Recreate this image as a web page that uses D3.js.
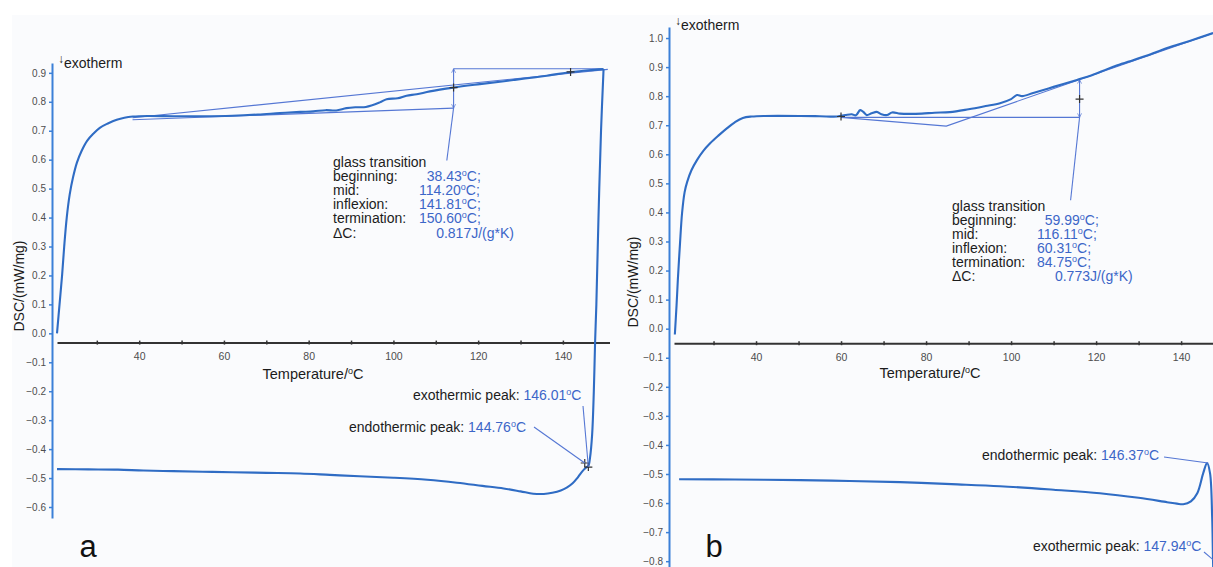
<!DOCTYPE html>
<html>
<head>
<meta charset="utf-8">
<script src="https://cdn.jsdelivr.net/npm/d3@7"></script>
<style>
  body { margin: 0; background: #ffffff; }
  svg { display: block; }
  text { font-family: "Liberation Sans", Arial, Helvetica, sans-serif; }
</style>
</head>
<body>
<svg id="chart" width="1213" height="567"></svg>
<script>
// ---------- axis ticks ----------
const tempTicks = [30, 40, 50, 60, 70, 80, 90, 100, 110, 120, 130, 140];
const tempLabelTicks = [40, 60, 80, 100, 120, 140];
const dscTicksA = [0.9, 0.8, 0.7, 0.6, 0.5, 0.4, 0.3, 0.2, 0.1, 0.0, -0.1, -0.2, -0.3, -0.4, -0.5, -0.6];
const dscTicksB = [1.0, 0.9, 0.8, 0.7, 0.6, 0.5, 0.4, 0.3, 0.2, 0.1, 0.0, -0.1, -0.2, -0.3, -0.4, -0.5, -0.6, -0.7, -0.8];

// ---------- sample a: heating trace (°C, mW/mg) ----------
const aHeatTemp = [20.6, 21.2, 21.8, 22.3, 22.9, 23.6, 24.4, 25.3, 26.4, 27.7, 29.2, 30.7, 32.6, 34.7, 36.5, 38.5,
  42, 48, 55, 62, 68, 73.2, 78, 81.1, 84, 86.5, 88.9, 91, 93.5, 96.8, 98.4, 101, 103.1, 105.5, 108.6, 114.1,
  120.4, 128.3, 136.2, 142.1, 146, 149.6];
const aHeatDsc = [0.00, 0.10, 0.20, 0.30, 0.40, 0.48, 0.54, 0.59, 0.63, 0.665, 0.69, 0.71, 0.725, 0.738, 0.745, 0.749,
  0.751, 0.750, 0.750, 0.752, 0.756, 0.761, 0.765, 0.767, 0.771, 0.770, 0.778, 0.781, 0.782, 0.798, 0.809, 0.812, 0.821, 0.826, 0.836, 0.849,
  0.861, 0.875, 0.890, 0.903, 0.909, 0.913];

// ---------- sample a: return / cooling trace ----------
const aCoolTemp = [149.6, 149.0, 148.4, 147.9, 147.6, 147.3, 146.9, 146.4, 146.01, 145.6, 145.0, 144.3, 143.4, 142.3,
  141.0, 139.5, 137.5, 135.5, 133.0, 130.0, 126.0, 121.0, 115.0, 108.0, 100.0, 92.0, 85.0, 78.0, 70.0, 62.0,
  55.0, 48.0, 41.0, 35.0, 28.0, 20.6];
const aCoolDsc = [0.913, 0.70, 0.40, 0.10, -0.03, -0.20, -0.35, -0.43, -0.458, -0.462, -0.470, -0.482, -0.500, -0.518,
  -0.532, -0.543, -0.551, -0.555, -0.554, -0.546, -0.536, -0.527, -0.516, -0.506, -0.499, -0.494, -0.489, -0.484, -0.482, -0.480,
  -0.478, -0.476, -0.474, -0.471, -0.470, -0.469];

// ---------- sample b: heating trace ----------
const bHeatTemp = [20.9, 21.3, 21.6, 22.1, 22.6, 23.2, 23.8, 24.8, 26.1, 27.6, 29.2, 31.2, 33.2, 35, 36.9, 39,
  42, 50.4, 55, 59.1, 61, 62.5, 63.5, 64.5, 65.3, 66, 67.2, 68.4, 69.5, 70.8, 72, 73.9, 76, 79, 82, 85.6,
  90, 94, 97.4, 100, 101.4, 102.6, 105.2, 110, 115.5, 119, 122.6, 125, 128.7, 132, 136.7, 142, 147.5];
const bHeatDsc = [-0.02, 0.08, 0.167, 0.29, 0.398, 0.47, 0.505, 0.545, 0.58, 0.612, 0.638, 0.665, 0.69, 0.71, 0.725, 0.730,
  0.732, 0.732, 0.731, 0.730, 0.735, 0.738, 0.734, 0.752, 0.745, 0.735, 0.741, 0.746, 0.738, 0.735, 0.744, 0.740, 0.739, 0.740, 0.743, 0.745,
  0.755, 0.766, 0.776, 0.790, 0.804, 0.800, 0.811, 0.832, 0.856, 0.872, 0.893, 0.906, 0.924, 0.940, 0.966, 0.990, 1.017];

// ---------- sample b: return / cooling trace ----------
const bCoolTemp = [21.9, 35, 50.4, 62, 73.9, 86, 97.4, 110, 120.9, 130, 136.7, 139, 140.5, 142.3, 143.8, 145.2,
  146.1, 146.8, 147.3, 147.5, 147.7];
const bCoolDsc = [-0.518, -0.519, -0.521, -0.524, -0.528, -0.535, -0.542, -0.554, -0.566, -0.582, -0.597, -0.602, -0.604, -0.594, -0.566, -0.497,
  -0.462, -0.497, -0.648, -0.796, -0.90];

// ---------- evaluation results ----------
const glassLabels = ["beginning:", "mid:", "inflexion:", "termination:", "\u0394C:"];
const aGlassTemps = [38.43, 114.20, 141.81, 150.60];
const aDeltaC = 0.817;
const aBaseLow = [0.738, 0.778];   // pre-transition baseline at beginning / mid
const aBaseHigh = [0.745, 0.912];  // post-transition baseline at beginning / termination
const aStepTop = 0.914;
const aMidDsc = 0.849;
const aInflexDsc = 0.903;
const aPeakTemps = [144.76, 146.01];   // endothermic, exothermic
const aPeakDsc = [-0.448, -0.462];

const bGlassTemps = [59.99, 116.11, 60.31, 84.75];
const bDeltaC = 0.773;
const bBaseLow = 0.727;
const bTermDsc = 0.697;
const bTangentEnd = [147.5, 1.017];
const bStepTop = 0.857;
const bMidDsc = 0.790;
const bPeakTemps = [146.37, 147.94];   // endothermic, exothermic
const bPeakDsc = [-0.462, -0.80];

// ---------- styling ----------
const curveColor = "#2f6cc4";
const auxColor = "#5577d4";
const valueColor = "#3c66c8";
const textColor = "#1c1c1c";
const tickColor = "#4d4d4d";

const svg = d3.select("#chart");
svg.append("rect").attr("x", 12).attr("y", 15).attr("width", 1201).attr("height", 552).attr("fill", "#fafbfd");

const defs = svg.append("defs");
["up", "down"].forEach(dir => {
  defs.append("marker")
    .attr("id", "arrow-" + dir)
    .attr("viewBox", "0 0 10 10")
    .attr("refX", 5).attr("refY", dir === "up" ? 1 : 9)
    .attr("markerWidth", 5).attr("markerHeight", 6)
    .attr("markerUnits", "userSpaceOnUse")
    .attr("orient", "0")
    .append("path")
    .attr("d", dir === "up" ? "M1,9 L5,1 L9,9" : "M1,1 L5,9 L9,1")
    .attr("fill", "none").attr("stroke", auxColor).attr("stroke-width", 1.4);
});

const zip = (t, v) => t.map((d, i) => [d, v[i]]);
const fmt2 = d3.format(".2f");

function drawPanel(cfg) {
  const g = svg.append("g");
  const x = d3.scaleLinear().domain(cfg.tDomain).range(cfg.xRange);
  const y = d3.scaleLinear().domain(cfg.vDomain).range(cfg.yRange);

  // temperature axis, crossing the plot just below zero
  const xAxis = g.append("g")
    .attr("transform", `translate(0,${y(cfg.axisAt)})`)
    .call(d3.axisBottom(x).tickValues(tempTicks)
      .tickFormat(d => tempLabelTicks.includes(d) ? d : "")
      .tickSize(3).tickSizeOuter(0).tickPadding(7));
  xAxis.select(".domain").attr("stroke", "#333").attr("stroke-width", 2);
  xAxis.selectAll(".tick line").attr("y1", -2).attr("y2", 2).attr("stroke", "#333").attr("stroke-width", 1.5);
  xAxis.selectAll(".tick text").attr("fill", tickColor).attr("font-size", 10.5);

  // DSC axis
  const yAxis = g.append("g")
    .attr("transform", `translate(${cfg.yAxisX},0)`)
    .call(d3.axisLeft(y).tickValues(cfg.dscTicks).tickFormat(d3.format(".1f"))
      .tickSize(3).tickSizeOuter(0).tickPadding(3));
  yAxis.select(".domain").attr("stroke", "#3b80d8").attr("stroke-width", 2);
  yAxis.selectAll(".tick line").attr("stroke", "#3b80d8").attr("stroke-width", 1.5);
  yAxis.selectAll(".tick text").attr("fill", tickColor).attr("font-size", 10);

  const line = d3.line().x(d => x(d[0])).y(d => y(d[1])).curve(d3.curveCatmullRom.alpha(0.5));
  const straight = d3.line().x(d => x(d[0])).y(d => y(d[1]));

  // evaluation construction lines
  cfg.aux.forEach(seg => {
    const p = g.append("path").attr("d", straight(seg.pts))
      .attr("fill", "none").attr("stroke", auxColor).attr("stroke-width", 1.1);
    if (seg.arrows) p.attr("marker-start", "url(#arrow-down)").attr("marker-end", "url(#arrow-up)");
  });

  // measured traces
  g.append("path").attr("d", line(cfg.heat)).attr("fill", "none")
    .attr("stroke", curveColor).attr("stroke-width", 2.1).attr("stroke-linejoin", "round");
  g.append("path").attr("d", line(cfg.cool)).attr("fill", "none")
    .attr("stroke", curveColor).attr("stroke-width", 2.1).attr("stroke-linejoin", "round");

  // "+" markers
  cfg.crosses.forEach(c => {
    const cx = x(c[0]), cy = y(c[1]);
    g.append("path").attr("d", `M${cx - 4},${cy}H${cx + 4}M${cx},${cy - 4}V${cy + 4}`)
      .attr("stroke", "#333").attr("stroke-width", 1.2);
  });

  // glass transition text block
  const gt = cfg.glass;
  g.append("text").attr("x", gt.x).attr("y", gt.y).attr("font-size", 14).attr("fill", textColor)
    .text("glass transition");
  glassLabels.forEach((lab, i) => {
    const yy = gt.y + (i + 1) * gt.dy;
    g.append("text").attr("x", gt.x).attr("y", yy).attr("font-size", 14).attr("fill", textColor).text(lab);
    const t = g.append("text").attr("x", gt.valueX + gt.pad[i] * 7.8).attr("y", yy)
      .attr("font-size", 14).attr("fill", valueColor);
    if (i < 4) {
      t.append("tspan").text(fmt2(gt.temps[i]));
      t.append("tspan").attr("font-size", 9).attr("dy", -5).text("o");
      t.append("tspan").attr("dy", 5).text("C;");
    } else {
      t.text(d3.format(".3f")(gt.deltaC) + "J/(g*K)");
    }
  });

  // peak annotations
  cfg.peaks.forEach(pk => {
    const tx = pk.t + (pk.shift || 0);
    g.append("path").attr("d", `M${pk.lx},${pk.ly}L${x(tx)},${y(pk.v)}`)
      .attr("stroke", auxColor).attr("stroke-width", 1.1);
    const t = g.append("text").attr("x", pk.tx).attr("y", pk.ty).attr("font-size", 14).attr("fill", textColor);
    t.append("tspan").text(pk.label + " ");
    t.append("tspan").attr("fill", valueColor).text(fmt2(pk.t));
    t.append("tspan").attr("fill", valueColor).attr("font-size", 9).attr("dy", -5).text("o");
    t.append("tspan").attr("fill", valueColor).attr("dy", 5).text("C");
  });

  // axis titles
  const xt = g.append("text").attr("x", cfg.xTitle[0]).attr("y", cfg.xTitle[1])
    .attr("text-anchor", "middle").attr("font-size", 14.5).attr("fill", textColor);
  xt.append("tspan").text("Temperature/");
  xt.append("tspan").attr("font-size", 9).attr("dy", -5).text("o");
  xt.append("tspan").attr("dy", 5).text("C");

  g.append("text").attr("transform", `translate(${cfg.yTitle[0]},${cfg.yTitle[1]}) rotate(-90)`)
    .attr("text-anchor", "middle").attr("font-size", 14).attr("fill", textColor)
    .text("DSC/(mW/mg)");

  const ex = g.append("text").attr("x", cfg.exo[0]).attr("y", cfg.exo[1]).attr("fill", textColor);
  ex.append("tspan").attr("font-size", 12).attr("font-weight", "bold").attr("dy", -5).text("\u2193");
  ex.append("tspan").attr("font-size", 14).attr("dy", 5).text("exotherm");

  g.append("text").attr("x", cfg.letter[0]).attr("y", cfg.letter[1]).attr("text-anchor", "middle")
    .attr("font-size", 31).attr("fill", "#111").text(cfg.name);
}

// ---------- panel a ----------
drawPanel({
  name: "a",
  tDomain: [20.6, 151.0], xRange: [57, 609.5],
  vDomain: [-0.638, 0.934], yRange: [518, 63],
  axisAt: -0.032, yAxisX: 52, dscTicks: dscTicksA,
  heat: zip(aHeatTemp, aHeatDsc),
  cool: zip(aCoolTemp, aCoolDsc),
  aux: [
    { pts: [[aGlassTemps[0], aBaseLow[0]], [aGlassTemps[1], aBaseLow[1]]] },
    { pts: [[aGlassTemps[0], aBaseHigh[0]], [aGlassTemps[3], aBaseHigh[1]]] },
    { pts: [[aGlassTemps[1], aStepTop], [aGlassTemps[3] - 1.3, aStepTop]] },
    { pts: [[aGlassTemps[1], aBaseLow[1]], [aGlassTemps[1], aStepTop]], arrows: true },
    { pts: [[aGlassTemps[1], aBaseLow[1]], [112.6, 0.597]] }
  ],
  crosses: [[aGlassTemps[1], aMidDsc], [aGlassTemps[2], aInflexDsc],
            [aPeakTemps[0] + 0.4, aPeakDsc[0]], [aPeakTemps[1], aPeakDsc[1]]],
  glass: { x: 333, y: 167, dy: 14.1, valueX: 419, pad: [1, 0, 0, 0, 2.2],
           temps: aGlassTemps, deltaC: aDeltaC },
  peaks: [
    { label: "exothermic peak:", t: aPeakTemps[1], v: aPeakDsc[1], tx: 413, ty: 400, lx: 583, ly: 406 },
    { label: "endothermic peak:", t: aPeakTemps[0], shift: 0.4, v: aPeakDsc[0], tx: 349, ty: 432, lx: 534, ly: 427 }
  ],
  xTitle: [313, 379], yTitle: [24, 286], exo: [58, 68], letter: [88, 557]
});

// ---------- panel b ----------
drawPanel({
  name: "b",
  tDomain: [20.7, 147.5], xRange: [674, 1213],
  vDomain: [-0.82, 1.038], yRange: [567, 27],
  axisAt: -0.05, yAxisX: 669, dscTicks: dscTicksB,
  heat: zip(bHeatTemp, bHeatDsc),
  cool: zip(bCoolTemp, bCoolDsc),
  aux: [
    { pts: [[bGlassTemps[0], bBaseLow], [bGlassTemps[1], bBaseLow]] },
    { pts: [[bGlassTemps[0], bBaseLow], [bGlassTemps[3], bTermDsc], bTangentEnd] },
    { pts: [[bGlassTemps[1], bBaseLow], [bGlassTemps[1], bStepTop]], arrows: true },
    { pts: [[bGlassTemps[1], bBaseLow], [114.0, 0.442]] }
  ],
  crosses: [[bGlassTemps[0], bBaseLow + 0.003], [bGlassTemps[1], bMidDsc]],
  glass: { x: 952, y: 211, dy: 14.06, valueX: 1037, pad: [1, 0, 0, 0, 2.3],
           temps: bGlassTemps, deltaC: bDeltaC },
  peaks: [
    { label: "endothermic peak:", t: bPeakTemps[0], v: bPeakDsc[0], tx: 982, ty: 460, lx: 1164, ly: 457 },
    { label: "exothermic peak:", t: bPeakTemps[1], v: bPeakDsc[1], tx: 1033, ty: 551, lx: 1204, ly: 552 }
  ],
  xTitle: [930, 378], yTitle: [638, 282], exo: [675, 30], letter: [714, 557]
});
</script>
</body>
</html>
